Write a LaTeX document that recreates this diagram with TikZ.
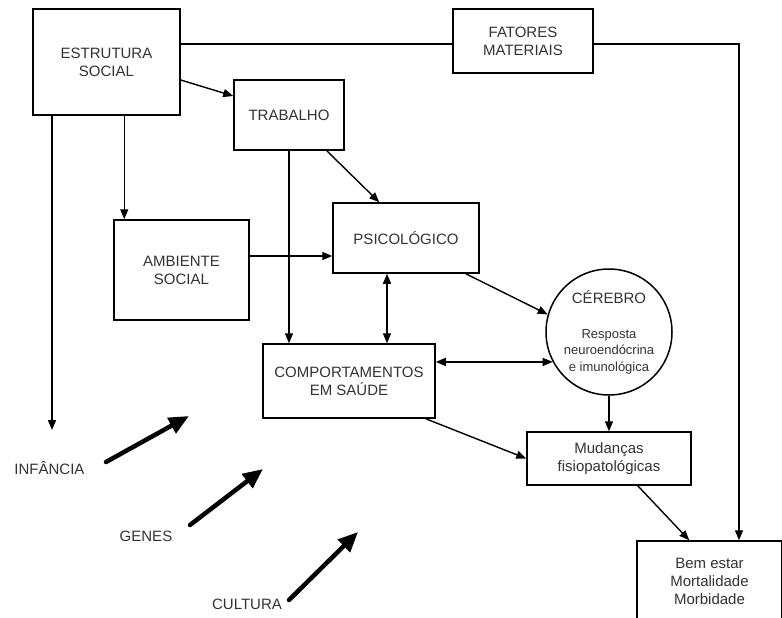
\documentclass[tikz,border=0pt]{standalone}
\usepackage{fontspec}
\setmainfont{Liberation Sans}
\usetikzlibrary{arrows.meta}
\begin{document}
\begin{tikzpicture}[x=1pt,y=-1pt,
  box/.style={draw, line width=1.5pt, rectangle, align=center, inner sep=0pt, font=\fontsize{15}{18}\selectfont, text=black!80},
  lbl/.style={font=\fontsize{15}{18}\selectfont, text=black!80, inner sep=1pt},
  con/.style={line width=1.4pt, -{Triangle[length=10pt,width=8pt]}},
  dcon/.style={line width=1.4pt, {Triangle[length=10pt,width=8pt]}-{Triangle[length=10pt,width=8pt]}},
  plainline/.style={line width=1.4pt},
  bigarrow/.style={line width=4.5pt, line cap=round, -{Triangle[length=20pt,width=17pt]}}
]
\useasboundingbox (0,0) rectangle (782,618);
\clip (0,0) rectangle (782,618);
\fill[white] (0,0) rectangle (782,618);

% boxes
\node[box, minimum width=147pt, minimum height=106pt] (est) at (106.5,62) {ESTRUTURA\\SOCIAL};
\node[box, minimum width=140pt, minimum height=64pt] (fat) at (523,41) {FATORES\\MATERIAIS};
\node[box, minimum width=110pt, minimum height=70pt] (trab) at (289,115) {TRABALHO};
\node[box, minimum width=135pt, minimum height=100pt] (amb) at (181.5,270) {AMBIENTE\\SOCIAL};
\node[box, minimum width=146pt, minimum height=70pt] (psi) at (406,238) {PSICOLÓGICO};
\node[box, minimum width=172pt, minimum height=74pt] (com) at (349,381) {COMPORTAMENTOS\\EM SAÚDE};
\node[box, circle, minimum size=126pt, font=\fontsize{13}{16.5}\selectfont] (cer) at (609,332)
  {{\fontsize{15}{18}\selectfont CÉREBRO}\\[18.5pt]Resposta\\neuroendócrina\\e imunológica};
\node[box, minimum width=164pt, minimum height=53pt] (mud) at (609,458.5) {Mudanças\\fisiopatológicas};
\node[box, minimum width=145pt, minimum height=80pt] (bem) at (709.5,581) {Bem estar\\Mortalidade\\Morbidade};

% labels
\node[lbl] (inf) at (49.5,468) {INFÂNCIA};
\node[lbl] (gen) at (146,536) {GENES};
\node[lbl] (cul) at (247,604) {CULTURA};

% free ends
\coordinate (infend) at (52,430);
\coordinate (ia) at (106,462); \coordinate (ib) at (189,416);
\coordinate (ga) at (190,525); \coordinate (gb) at (263,469);
\coordinate (ca) at (289,600); \coordinate (cb) at (358,532);

% connectors
\coordinate (topy) at ([yshift=-3pt]fat.west);
\draw[plainline] (topy -| est.east) -- (topy);
\coordinate (cr) at (739,44);
\draw[con] (topy -| fat.east) -- (cr) -- (cr |- bem.north);

\draw[con] ([yshift=-18pt]est.east) -- ([yshift=19pt]trab.west);
\coordinate (ax) at ([xshift=11pt]amb.north west);
\draw[con] (ax |- est.south) -- (ax);
\draw[con] (infend |- est.south) -- (infend);
\draw[con] ([xshift=-18pt]trab.south east) -- ([xshift=47pt]psi.north west);
\draw[con] (trab.south) -- (trab.south |- com.north);
\coordinate (ay) at ([yshift=14pt]amb.east);
\draw[con] (ay) -- (ay -| psi.west);
\coordinate (px) at ([xshift=-19pt]psi.south);
\draw[dcon] (px) -- (px |- com.north);
\draw[con] ([xshift=-14pt]psi.south east) -- (cer.164);
\draw[dcon] (com.east |- cer.208) -- (cer.208);
\draw[con] (cer.south) -- (cer.south |- mud.north);
\draw[con] ([xshift=-10pt]com.south east) -- (mud.west);
\draw[con] ([xshift=-54pt]mud.south east) -- ([xshift=53pt]bem.north west);

% thick arrows
\draw[bigarrow] (ia) -- (ib);
\draw[bigarrow] (ga) -- (gb);
\draw[bigarrow] (ca) -- (cb);
\end{tikzpicture}
\end{document}
